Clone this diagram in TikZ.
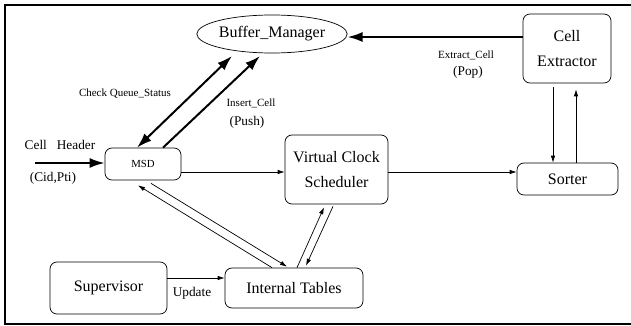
\documentclass[tikz,border=0pt]{standalone}
\usepackage{fontspec}
\setmainfont{Liberation Serif}
\usetikzlibrary{arrows.meta,shapes.geometric}
\tikzset{
  box/.style={draw, rounded corners=7pt, line width=0.7pt, inner sep=0pt, align=center, font=\fontsize{16}{25}\selectfont},
  oval/.style={draw, ellipse, line width=0.7pt, inner sep=0pt, font=\fontsize{16}{19}\selectfont},
  thin arrow/.style={line width=0.7pt, -{Latex[length=7pt,width=4.5pt]}},
  thin both/.style={line width=0.7pt, {Latex[length=7pt,width=4.5pt]}-{Latex[length=7pt,width=4.5pt]}},
  thick arrow/.style={line width=2pt, -{Latex[length=15pt,width=10pt]}},
  thick both/.style={line width=2pt, {Latex[length=15pt,width=10pt]}-{Latex[length=15pt,width=10pt]}},
  small/.style={inner sep=0pt, font=\fontsize{11}{13}\selectfont},
  mid/.style={inner sep=0pt, font=\fontsize{13.3}{15}\selectfont}
}
\begin{document}
\begin{tikzpicture}[x=1pt,y=-1pt]
\useasboundingbox (0,0) rectangle (631,326);
\draw[line width=2pt] (645,5) -- (5,5) -- (5,324) -- (645,324);

\node[oval, minimum width=144pt, minimum height=38pt] (BM) at (272,34) {Buffer\_Manager};
\node[box, minimum width=88pt, minimum height=69pt] (CE) at (567,48.5) {Cell\\Extractor};
\node[box, minimum width=101pt, minimum height=32pt] (SO) at (567.5,179) {Sorter};
\node[box, minimum width=103pt, minimum height=69pt] (VCS) at (336.5,169.5) {Virtual Clock\\Scheduler};
\node[box, minimum width=76pt, minimum height=32pt, font=\fontsize{10.8}{13}\selectfont] (MSD) at (143,164) {MSD};
\node[box, minimum width=117pt, minimum height=52pt] (SUP) at (108.5,288) {Supervisor};
\node[box, minimum width=138pt, minimum height=40pt] (IT) at (294,288) {Internal Tables};

\node[small] (lcq) at (125,94) {Check Queue\_Status};
\node[small] (lic) at (251,103) {Insert\_Cell};
\node[mid] (lpush) at (247,122) {(Push)};
\node[small] (lec) at (466,55) {Extract\_Cell};
\node[mid] (lpop) at (468,72) {(Pop)};
\node[mid] (lch) at (60,145) {Cell\ \ \ Header};
\node[mid] (lcid) at (53,178) {(Cid,Pti)};
\node[mid] (lup) at (192,293) {Update};

\coordinate (chin) at (35,163);
\draw[thick arrow] (chin) -- (chin -| MSD.west);

\draw[thick both] ([xshift=-6pt]MSD.north) -- ([xshift=-40pt,yshift=-22pt]BM.center);
\draw[thick arrow] ([xshift=20pt]MSD.north) -- ([xshift=-12pt,yshift=-22pt]BM.center);
\draw[thick arrow] ([yshift=11.5pt]CE.west) -- ([yshift=-3pt]BM.east);

\draw[thin arrow] ([xshift=-14pt,yshift=-4pt]CE.south) coordinate (c1) -- (c1 |- SO.north);
\draw[thin arrow] ([xshift=8.5pt]SO.north) coordinate (s1) -- ([yshift=-6pt]s1 |- CE.south);

\draw[thin arrow] ([yshift=-8pt]MSD.east) coordinate (m1) -- (m1 -| VCS.west);
\draw[thin arrow] ([yshift=-2.5pt]VCS.east) coordinate (v1) -- (v1 -| SO.west);

\draw[thin arrow] ([xshift=-22pt]IT.north) -- ([xshift=-5pt,yshift=-5pt]MSD.south);
\draw[thin arrow] ([xshift=8pt,yshift=-3pt]MSD.south) -- ([xshift=-7pt,yshift=1pt]IT.north);
\draw[thin arrow] ([xshift=3pt]IT.north) -- ([xshift=-12.5pt,yshift=-3pt]VCS.south);
\draw[thin arrow] ([xshift=-3.5pt,yshift=-2pt]VCS.south) -- ([xshift=12pt,yshift=2pt]IT.north);

\draw[thin arrow] ([yshift=10pt]SUP.east) coordinate (u1) -- (u1 -| IT.west);
\end{tikzpicture}
\end{document}
